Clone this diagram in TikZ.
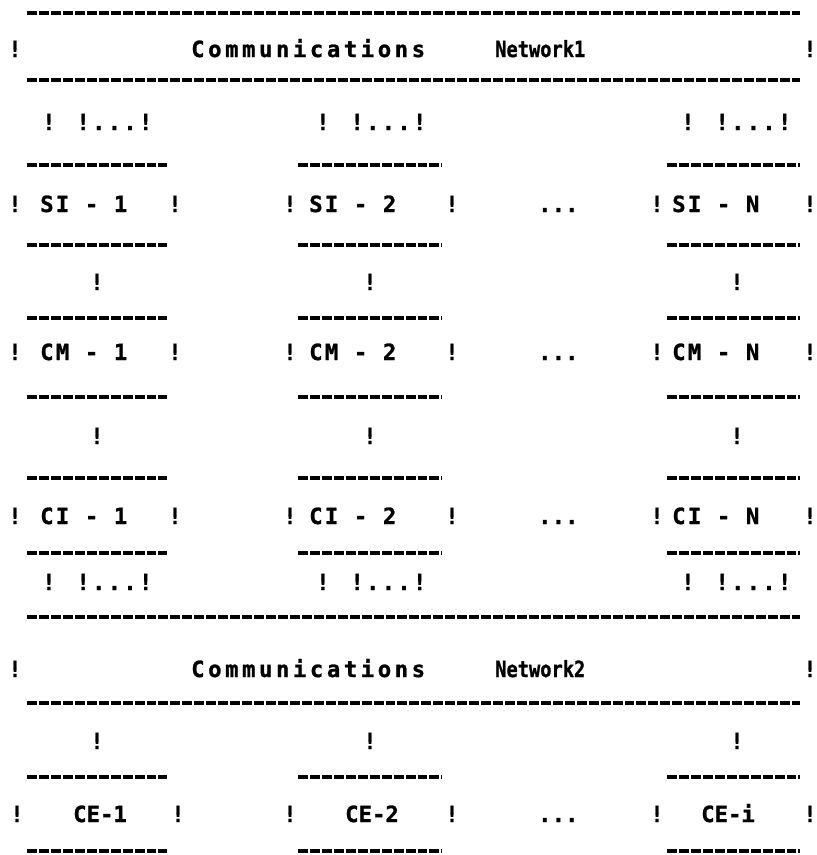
\documentclass[tikz,border=0pt]{standalone}
\usepackage{fontspec}
\newfontfamily\dotfont{DejaVu Sans Mono Bold}[FakeBold=1.2]
\newfontfamily\dotlbl{DejaVu Sans Mono Bold}[LetterSpace=10,FakeBold=1.2]
\newfontfamily\dotwide{DejaVu Sans Mono Bold}[LetterSpace=16,FakeBold=1.2]

\begin{document}
\begin{tikzpicture}[x=0.03cm,y=-0.03cm,
  lbl/.style={inner sep=0pt,anchor=base west,font=\dotlbl\fontsize{19}{21}\selectfont},
  lbln/.style={lbl,font=\dotfont\fontsize{19}{21}\selectfont},
  lblw/.style={lbl,font=\dotwide\fontsize{19}{21}\selectfont},
  bang/.style={lbln,anchor=base},
  rule/.style={line width=3pt,dash pattern=on 8.5pt off 1.7pt}]
\useasboundingbox (0,0) rectangle (817,855);

% dashed rules, full width and per column
\foreach \y in {13,80,617,703} \draw[rule] (27,\y) -- (800,\y);
\foreach \y in {165,245,318,397,478,553,777,851}
  \foreach \l/\r in {27/167,298/442,667/800} \draw[rule] (\l,\y) -- (\r,\y);

% network 1
\node[bang] (netA-l) at (15,57) {!};
\node[lblw] (commA) at (191,57) {Communications};
\node[lbln] (netA) at (495,57) {\scalebox{0.84}[1]{Network1}};
\node[bang] (netA-r) at (810,57) {!};

% network 2
\node[bang] (netB-l) at (15,677) {!};
\node[lblw] (commB) at (191,677) {Communications};
\node[lbln] (netB) at (495,677) {\scalebox{0.84}[1]{Network2}};
\node[bang] (netB-r) at (810,677) {!};

% ports under network 1 and over network 2
\foreach \y in {130,590}
  \foreach \x in {42,316,681} \node[lbl] (port\x-\y) at (\x,\y) {! !...!};

% SI, CM, CI stacks
\foreach \r/\y in {SI/212,CM/360,CI/524} {
  \foreach \n/\x/\a/\b in {1/40/15/175,2/309/290/452,N/672/657/810} {
    \node[lbl] (\r\n) at (\x,\y) {\r{} - \n};
    \node[bang] (\r\n-l) at (\a,\y) {!};
    \node[bang] (\r\n-r) at (\b,\y) {!};
  }
}

% CE row
\foreach \n/\x/\a/\b in {1/73/17/178,2/345/290/452,i/701/657/810} {
  \node[lbln] (CE\n) at (\x,822) {CE-\n};
  \node[bang] (CE\n-l) at (\a,822) {!};
  \node[bang] (CE\n-r) at (\b,822) {!};
}

% dots between columns
\foreach \y in {212,360,524,822} \node[lbln] (dots\y) at (538,\y) {...};

% links
\foreach \y in {290,444,749}
  \foreach \x in {97,370,737} \node[bang] (link\x-\y) at (\x,\y) {!};
\end{tikzpicture}
\end{document}
